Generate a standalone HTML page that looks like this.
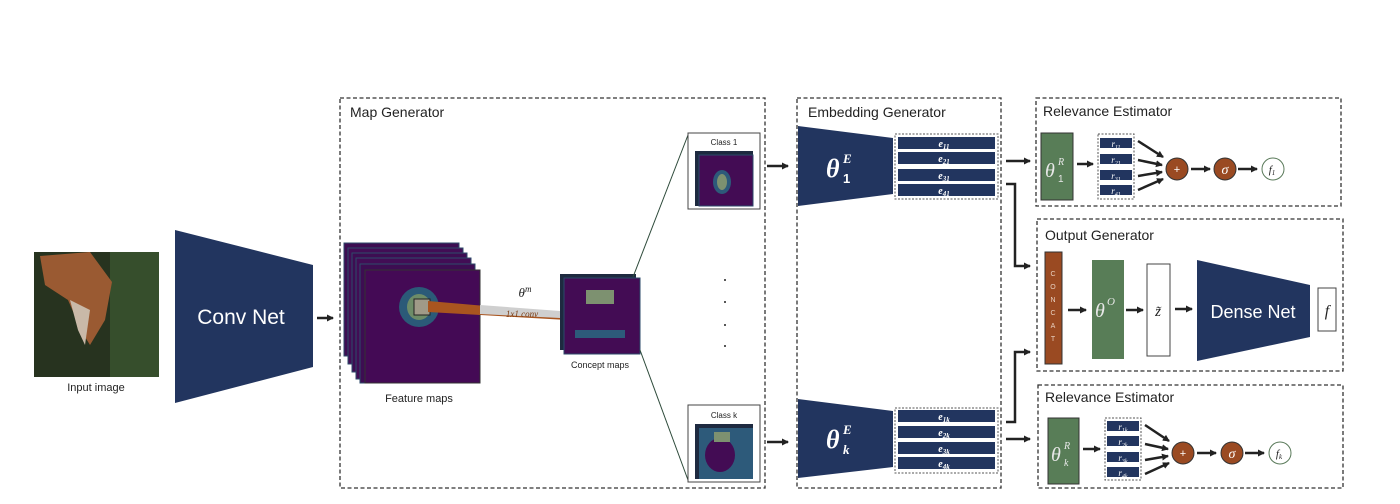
<!DOCTYPE html>
<html><head><meta charset="utf-8"><style>
html,body{margin:0;padding:0;background:#fff;}
svg{display:block;}
text{font-family:"Liberation Sans",sans-serif;}
.m{font-family:"Liberation Serif",serif;font-style:italic;}
</style></head><body>
<svg width="1400" height="504" viewBox="0 0 1400 504" xmlns="http://www.w3.org/2000/svg">
<defs>
<marker id="ar" markerWidth="7" markerHeight="7" refX="6" refY="3.5" orient="auto" markerUnits="userSpaceOnUse"><path d="M0,0 L7,3.5 L0,7 z" fill="#222"/></marker>
</defs>
<g fill="none" stroke="#333" stroke-width="1.3" stroke-dasharray="4,2.5">
<rect x="340" y="98" width="425" height="390"/>
<rect x="797" y="98" width="204" height="390"/>
<rect x="1036" y="98" width="305" height="108"/>
<rect x="1037" y="219" width="306" height="152"/>
<rect x="1038" y="385" width="305" height="103"/>
</g>
<text x="350" y="117" font-size="14" fill="#222">Map Generator</text>
<text x="808" y="117" font-size="14" fill="#222">Embedding Generator</text>
<text x="1043" y="116" font-size="14" fill="#222">Relevance Estimator</text>
<text x="1045" y="240" font-size="14" fill="#222">Output Generator</text>
<text x="1045" y="402" font-size="14" fill="#222">Relevance Estimator</text>

<!-- fox image -->
<rect x="34" y="252" width="125" height="125" fill="#27331f"/>
<rect x="110" y="252" width="49" height="125" fill="#3b5530" opacity="0.8"/>
<path d="M40,256 L90,252 L112,282 L105,320 L90,345 L82,332 L68,300 L45,285 z" fill="#9a5a32"/>
<path d="M70,300 L90,310 L85,345 L78,330z" fill="#c9b9a8"/>
<text x="96" y="391" font-size="11" fill="#222" text-anchor="middle">Input image</text>

<!-- conv net -->
<polygon points="175,230 313,265 313,367 175,403" fill="#22355f"/>
<text x="241" y="324" font-size="21" fill="#fff" text-anchor="middle">Conv Net</text>
<line x1="317" y1="318" x2="333" y2="318" stroke="#222" stroke-width="2.5" marker-end="url(#ar)"/>

<!-- feature maps -->
<g stroke="#2d4a6a" stroke-width="1">
<rect x="344" y="243" width="115" height="113" fill="#3d0d52"/>
<rect x="348" y="248" width="115" height="116" fill="#420d55"/>
<rect x="352" y="253" width="115" height="119" fill="#3d0d52"/>
<rect x="356" y="258" width="115" height="121" fill="#420d55"/>
<rect x="360" y="264" width="115" height="119" fill="#3d0d52"/>
</g>
<rect x="365" y="270" width="115" height="113" fill="#440a55" stroke="#333"/>
<ellipse cx="419" cy="307" rx="20" ry="20" fill="#2b5a78"/>
<ellipse cx="419" cy="307" rx="12" ry="13" fill="#6d8c68"/>
<rect x="414" y="299" width="16" height="16" fill="#a09a88" stroke="#222"/>
<text x="419" y="402" font-size="11" fill="#222" text-anchor="middle">Feature maps</text>

<!-- 1x1 conv beam -->
<polygon points="428,301 602,316 602,322 428,312" fill="#a9551f"/>
<polygon points="480,305 560,311 560,318 480,314" fill="#cfcfcf"/>
<text x="525" y="297" class="m" font-size="13" fill="#222" text-anchor="middle">θ<tspan font-size="9" dy="-5">m</tspan></text>
<text x="522" y="317" class="m" font-size="9" fill="#7a3c14" text-anchor="middle">1x1 conv</text>

<!-- concept maps -->
<rect x="560" y="274" width="76" height="76" fill="#1e2a40"/>
<rect x="564" y="278" width="76" height="76" fill="#430c54" stroke="#2b4a6a"/>
<rect x="586" y="290" width="28" height="14" fill="#7d9170"/>
<rect x="575" y="330" width="50" height="8" fill="#2d5a7a"/>
<text x="600" y="368" font-size="9" fill="#222" text-anchor="middle">Concept maps</text>

<line x1="633" y1="277" x2="688" y2="135" stroke="#2d4a3a" stroke-width="1"/>
<line x1="640" y1="350" x2="688" y2="480" stroke="#2d4a3a" stroke-width="1"/>
<g fill="#222"><circle cx="725" cy="280" r="1"/><circle cx="725" cy="302" r="1"/><circle cx="725" cy="325" r="1"/><circle cx="725" cy="346" r="1"/></g>

<!-- class boxes -->
<rect x="688" y="133" width="72" height="76" fill="#fff" stroke="#444"/>
<text x="724" y="145" font-size="8" fill="#222" text-anchor="middle">Class 1</text>
<rect x="695" y="151" width="58" height="55" fill="#1e2a40"/>
<rect x="699" y="155" width="54" height="51" fill="#430c54" stroke="#2b4a6a"/>
<ellipse cx="722" cy="182" rx="9" ry="12" fill="#2d5a7a"/><ellipse cx="722" cy="182" rx="5" ry="8" fill="#7d9170"/>
<rect x="688" y="405" width="72" height="77" fill="#fff" stroke="#444"/>
<text x="724" y="418" font-size="8" fill="#222" text-anchor="middle">Class k</text>
<rect x="695" y="424" width="58" height="55" fill="#1e2a40"/>
<rect x="699" y="428" width="54" height="51" fill="#2d5a7a"/>
<ellipse cx="720" cy="455" rx="15" ry="17" fill="#430c54"/>
<rect x="714" y="432" width="16" height="10" fill="#7d9170"/>

<g stroke="#222" stroke-width="2.5">
<line x1="767" y1="166" x2="788" y2="166" marker-end="url(#ar)"/>
<line x1="767" y1="442" x2="788" y2="442" marker-end="url(#ar)"/>
</g>

<!-- embeddings -->
<polygon points="798,126 893,138 893,194 798,206" fill="#22355f"/>
<text x="826" y="177" class="m" font-size="26" font-weight="bold" fill="#fff">θ</text>
<text x="843" y="163" class="m" font-size="13" font-weight="bold" fill="#fff">E</text>
<text x="843" y="183" font-size="13" font-weight="bold" fill="#fff">1</text>
<polygon points="798,399 893,411 893,467 798,478" fill="#22355f"/>
<text x="826" y="448" class="m" font-size="26" font-weight="bold" fill="#fff">θ</text>
<text x="843" y="434" class="m" font-size="13" font-weight="bold" fill="#fff">E</text>
<text x="843" y="454" class="m" font-size="13" font-weight="bold" fill="#fff">k</text>
<g fill="none" stroke="#555" stroke-dasharray="2,1.5"><rect x="895" y="134" width="103" height="65"/><rect x="895" y="408" width="103" height="65"/></g>
<g fill="#22355f">
<rect x="898" y="137" width="97" height="12"/><rect x="898" y="152" width="97" height="12"/><rect x="898" y="169" width="97" height="12"/><rect x="898" y="184" width="97" height="12"/>
<rect x="898" y="410" width="97" height="12"/><rect x="898" y="426" width="97" height="12"/><rect x="898" y="442" width="97" height="12"/><rect x="898" y="457" width="97" height="12"/>
</g>
<g fill="#fff" font-size="10" font-weight="bold" text-anchor="middle">
<text x="944" y="147" class="m">e<tspan font-size="7" dy="2">11</tspan></text>
<text x="944" y="162" class="m">e<tspan font-size="7" dy="2">21</tspan></text>
<text x="944" y="179" class="m">e<tspan font-size="7" dy="2">31</tspan></text>
<text x="944" y="194" class="m">e<tspan font-size="7" dy="2">41</tspan></text>
<text x="944" y="420" class="m">e<tspan font-size="7" dy="2">1k</tspan></text>
<text x="944" y="436" class="m">e<tspan font-size="7" dy="2">2k</tspan></text>
<text x="944" y="452" class="m">e<tspan font-size="7" dy="2">3k</tspan></text>
<text x="944" y="467" class="m">e<tspan font-size="7" dy="2">4k</tspan></text>
</g>

<!-- connectors -->
<g stroke="#222" stroke-width="2.5" fill="none">
<line x1="1006" y1="161" x2="1030" y2="161" marker-end="url(#ar)"/>
<line x1="1006" y1="439" x2="1030" y2="439" marker-end="url(#ar)"/>
<polyline points="1006,184 1015,184 1015,266 1030,266" marker-end="url(#ar)"/>
<polyline points="1006,422 1015,422 1015,352 1030,352" marker-end="url(#ar)"/>
</g>

<!-- relevance top -->
<rect x="1041" y="133" width="32" height="67" fill="#587d57" stroke="#333"/>
<text x="1045" y="177" class="m" font-size="20" fill="#e8e8e8">θ</text>
<text x="1058" y="165" class="m" font-size="10" fill="#e8e8e8">R</text>
<text x="1058" y="182" font-size="10" fill="#e8e8e8">1</text>
<rect x="1098" y="134" width="36" height="65" fill="none" stroke="#555" stroke-dasharray="2,1.5"/>
<g fill="#22355f"><rect x="1100" y="138" width="32" height="10"/><rect x="1100" y="154" width="32" height="10"/><rect x="1100" y="170" width="32" height="10"/><rect x="1100" y="185" width="32" height="10"/></g>
<g fill="#fff" font-size="9" text-anchor="middle">
<text x="1116" y="147" class="m">r<tspan font-size="6" dy="2">11</tspan></text>
<text x="1116" y="163" class="m">r<tspan font-size="6" dy="2">21</tspan></text>
<text x="1116" y="179" class="m">r<tspan font-size="6" dy="2">31</tspan></text>
<text x="1116" y="194" class="m">r<tspan font-size="6" dy="2">41</tspan></text>
</g>
<g stroke="#222" stroke-width="2.5" fill="none">
<line x1="1077" y1="164" x2="1093" y2="164" marker-end="url(#ar)"/>
<line x1="1138" y1="141" x2="1163" y2="157" marker-end="url(#ar)"/>
<line x1="1138" y1="160" x2="1162" y2="165" marker-end="url(#ar)"/>
<line x1="1138" y1="176" x2="1162" y2="172" marker-end="url(#ar)"/>
<line x1="1138" y1="190" x2="1163" y2="179" marker-end="url(#ar)"/>
<line x1="1191" y1="169" x2="1210" y2="169" marker-end="url(#ar)"/>
<line x1="1238" y1="169" x2="1257" y2="169" marker-end="url(#ar)"/>
</g>
<circle cx="1177" cy="169" r="11" fill="#9a4a22" stroke="#333"/>
<text x="1177" y="173" font-size="11" fill="#fff" text-anchor="middle">+</text>
<circle cx="1225" cy="169" r="11" fill="#9a4a22" stroke="#333"/>
<text x="1225" y="174" class="m" font-size="14" fill="#fff" text-anchor="middle">σ</text>
<circle cx="1273" cy="169" r="11" fill="#fff" stroke="#5a7a5a"/>
<text x="1272" y="173" class="m" font-size="11" fill="#222" text-anchor="middle">f<tspan font-size="7" dy="2">1</tspan></text>

<!-- output generator -->
<rect x="1045" y="252" width="17" height="112" fill="#9a4a22" stroke="#333"/>
<g fill="#e8d0c0" font-size="7" text-anchor="middle">
<text x="1053" y="276">C</text><text x="1053" y="289">O</text><text x="1053" y="302">N</text><text x="1053" y="315">C</text><text x="1053" y="328">A</text><text x="1053" y="341">T</text></g>
<rect x="1092" y="260" width="32" height="99" fill="#587d57"/>
<text x="1095" y="317" class="m" font-size="20" fill="#e8e8e8">θ</text>
<text x="1107" y="305" class="m" font-size="11" fill="#e8e8e8">O</text>
<rect x="1147" y="264" width="23" height="92" fill="#fff" stroke="#444"/>
<text x="1158" y="316" class="m" font-size="15" fill="#222" text-anchor="middle">z̃</text>
<polygon points="1197,260 1310,285 1310,337 1197,361" fill="#22355f"/>
<text x="1253" y="318" font-size="18" fill="#fff" text-anchor="middle">Dense Net</text>
<rect x="1318" y="288" width="18" height="43" fill="#fff" stroke="#444"/>
<text x="1327" y="316" class="m" font-size="16" fill="#222" text-anchor="middle">f</text>
<g stroke="#222" stroke-width="2.5">
<line x1="1068" y1="310" x2="1086" y2="310" marker-end="url(#ar)"/>
<line x1="1126" y1="310" x2="1143" y2="310" marker-end="url(#ar)"/>
<line x1="1175" y1="309" x2="1192" y2="309" marker-end="url(#ar)"/>
</g>

<!-- relevance bottom -->
<rect x="1048" y="418" width="31" height="66" fill="#587d57" stroke="#333"/>
<text x="1051" y="461" class="m" font-size="20" fill="#e8e8e8">θ</text>
<text x="1064" y="449" class="m" font-size="10" fill="#e8e8e8">R</text>
<text x="1064" y="466" class="m" font-size="10" fill="#e8e8e8">k</text>
<rect x="1105" y="418" width="36" height="62" fill="none" stroke="#555" stroke-dasharray="2,1.5"/>
<g fill="#22355f"><rect x="1107" y="421" width="32" height="10"/><rect x="1107" y="436" width="32" height="10"/><rect x="1107" y="452" width="32" height="10"/><rect x="1107" y="467" width="32" height="10"/></g>
<g fill="#fff" font-size="9" text-anchor="middle">
<text x="1123" y="430" class="m">r<tspan font-size="6" dy="2">1k</tspan></text>
<text x="1123" y="445" class="m">r<tspan font-size="6" dy="2">2k</tspan></text>
<text x="1123" y="461" class="m">r<tspan font-size="6" dy="2">3k</tspan></text>
<text x="1123" y="476" class="m">r<tspan font-size="6" dy="2">4k</tspan></text>
</g>
<g stroke="#222" stroke-width="2.5" fill="none">
<line x1="1083" y1="449" x2="1100" y2="449" marker-end="url(#ar)"/>
<line x1="1145" y1="425" x2="1169" y2="441" marker-end="url(#ar)"/>
<line x1="1145" y1="444" x2="1168" y2="449" marker-end="url(#ar)"/>
<line x1="1145" y1="460" x2="1168" y2="456" marker-end="url(#ar)"/>
<line x1="1145" y1="474" x2="1169" y2="463" marker-end="url(#ar)"/>
<line x1="1197" y1="453" x2="1216" y2="453" marker-end="url(#ar)"/>
<line x1="1245" y1="453" x2="1264" y2="453" marker-end="url(#ar)"/>
</g>
<circle cx="1183" cy="453" r="11" fill="#9a4a22" stroke="#333"/>
<text x="1183" y="457" font-size="11" fill="#fff" text-anchor="middle">+</text>
<circle cx="1232" cy="453" r="11" fill="#9a4a22" stroke="#333"/>
<text x="1232" y="458" class="m" font-size="14" fill="#fff" text-anchor="middle">σ</text>
<circle cx="1280" cy="453" r="11" fill="#fff" stroke="#5a7a5a"/>
<text x="1279" y="457" class="m" font-size="11" fill="#222" text-anchor="middle">f<tspan font-size="7" dy="2">k</tspan></text>
</svg>
</body></html>
